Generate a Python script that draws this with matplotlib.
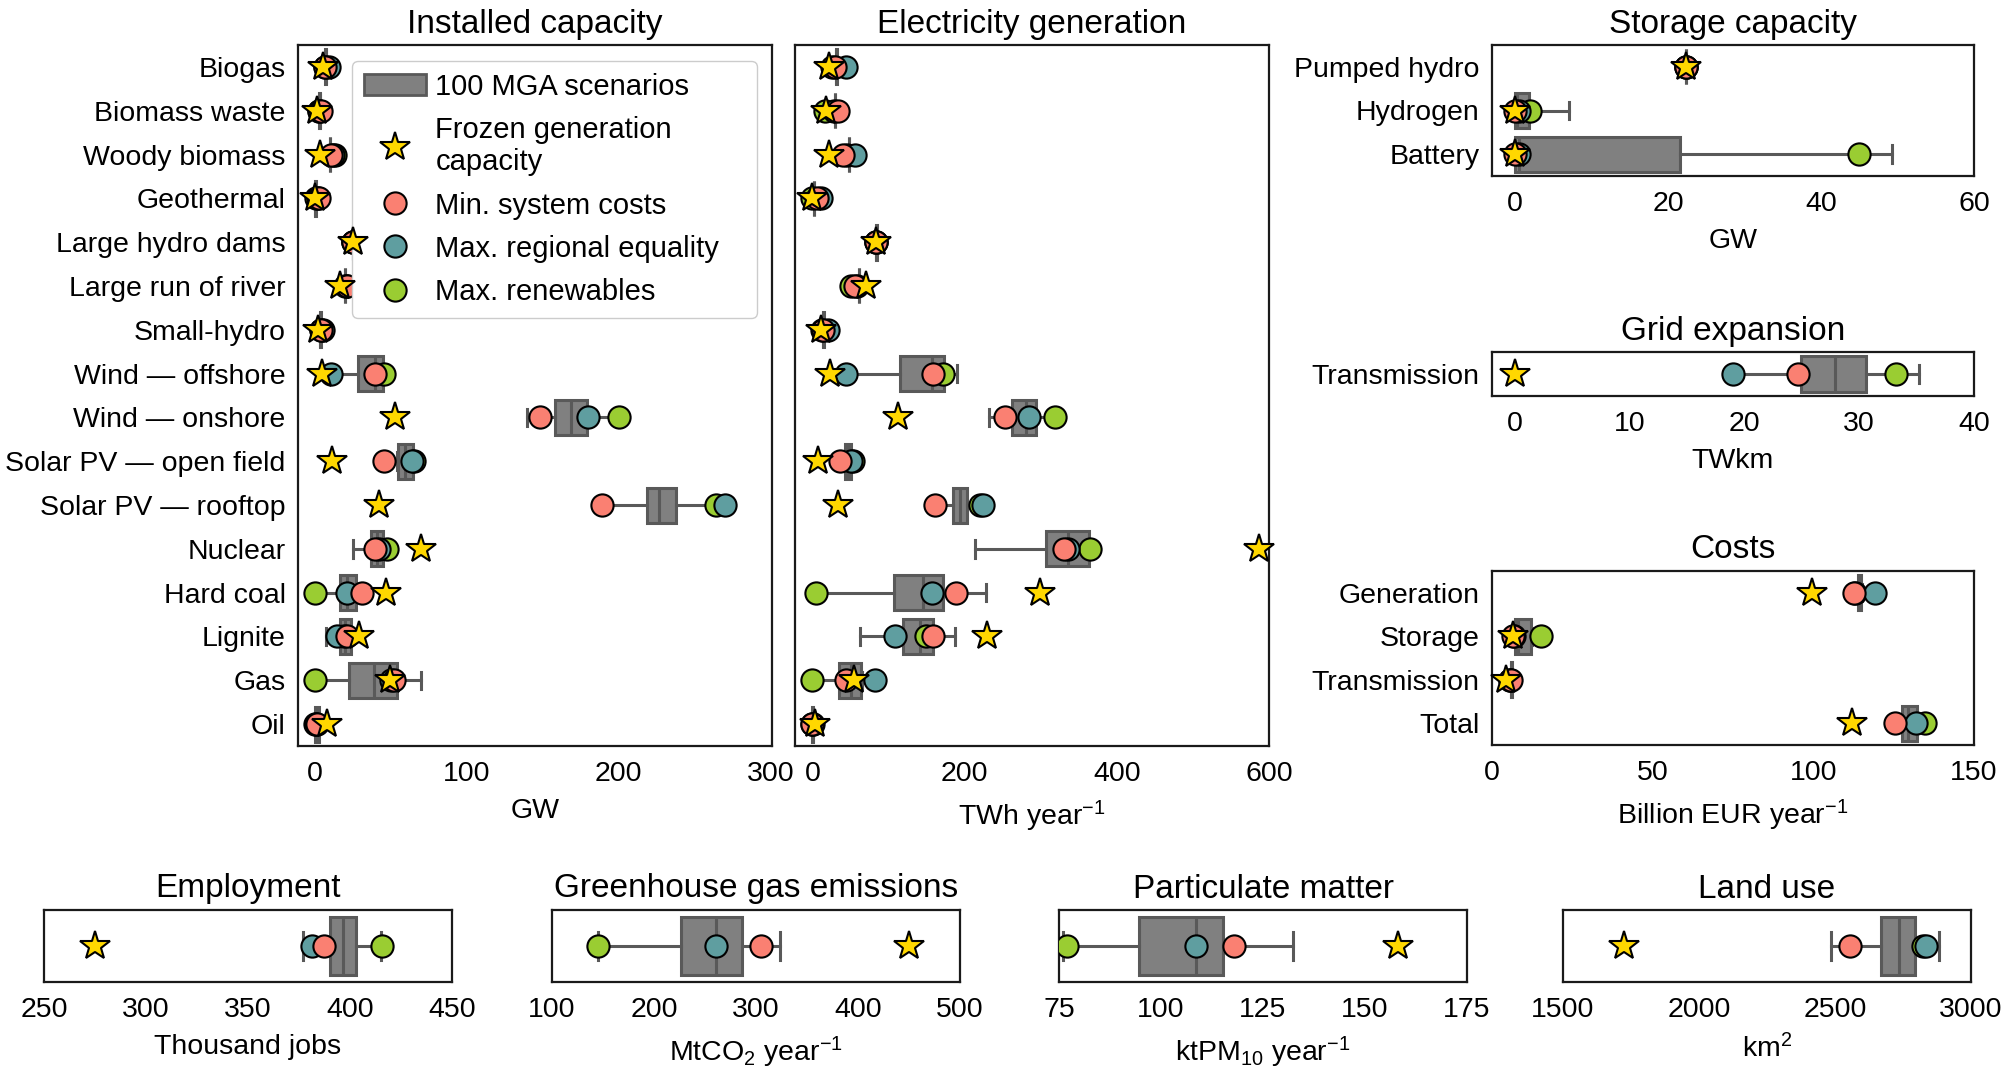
import matplotlib
matplotlib.use("Agg")
import matplotlib.pyplot as plt
from matplotlib.patches import Patch
from matplotlib.lines import Line2D

plt.rcParams['font.family'] = ['Liberation Sans', 'DejaVu Sans']
plt.rcParams['mathtext.default'] = 'regular'
plt.rcParams['font.size'] = 20.5

# ---- data (box stats = whisker low, q1, median, q3, whisker high) ----
cap_labels = ["Biogas", "Biomass waste", "Woody biomass", "Geothermal", "Large hydro dams",
              "Large run of river", "Small-hydro", "Wind — offshore", "Wind — onshore",
              "Solar PV — open field", "Solar PV — rooftop", "Nuclear", "Hard coal",
              "Lignite", "Gas", "Oil"]
cap_box = [(6.5, 7, 7.3, 7.6, 8), (3, 3.1, 3.3, 3.5, 3.6), (9.6, 9.8, 10, 10.3, 10.5),
           (0, 0.2, 0.5, 0.8, 1), (24.8, 24.9, 25, 25.1, 25.2), (19.6, 19.8, 20, 20.2, 20.4),
           (3.5, 3.6, 3.8, 4, 4.1), (11, 28.7, 40, 45, 45.5), (140, 158, 168.5, 179, 199),
           (54, 54.5, 59.6, 64.7, 65), (190, 218.5, 226.3, 237.5, 262), (25.4, 37, 41, 45, 45.5),
           (0, 16.5, 21.4, 27, 29), (7.7, 16.5, 20, 23.6, 24), (0, 22.5, 39.3, 54, 70),
           (0, 0.5, 1.5, 3, 3.5)]
cap_min_cost = [6.6, 4.4, 10.5, 3, 25, 21, 4.4, 40, 148, 45.7, 189, 40, 31, 21, 52, 1.5]
cap_max_equal = [9.4, 3, 12, 2, 25, 21, 5.5, 11, 180, 64, 270, 42, 21.4, 14.4, 50, 1]
cap_max_ren = [7, 2.5, 13.2, 1, 25, 20, 4, 45.7, 200, 65.5, 264, 47.5, 0, 19, 0, 0]
cap_frozen = [5.5, 1.3, 3.3, 0, 25, 16.5, 2.2, 5, 53, 11.7, 42, 70, 47, 29, 49.7, 8.4]

gen_box = [(30, 30.5, 31.5, 32.5, 33), (28.5, 29, 29.3, 29.7, 30), (47, 47.5, 48, 48.5, 49),
           (1, 1.5, 2, 2.5, 3), (83.5, 83.8, 84, 84.2, 84.5), (60, 60.5, 61, 61.5, 62),
           (13, 13.5, 14, 14.5, 15), (44.6, 114.6, 157, 172.4, 190), (231.5, 262.6, 280, 294, 315),
           (42, 43, 47, 51, 52), (165, 184.6, 193.4, 203, 222), (214, 307, 335.6, 363, 365),
           (5, 106.7, 145, 171.5, 228.5), (63, 119, 141, 159, 187), (0, 35, 50, 63.4, 65),
           (0, 0, 0.5, 1, 1.5)]
gen_min_cost = [29, 33.6, 40, 5.3, 84, 55.5, 14, 158, 253, 36, 161.5, 330, 188, 158.4, 44.6, 0]
gen_max_equal = [44.6, 28, 55.5, 11.8, 84, 58, 20.5, 44.6, 285, 50, 224, 336, 157, 109, 81.8, 1]
gen_max_ren = [26, 16, 45, 0, 84, 51, 13, 172, 319, 53, 220, 365, 5, 149.7, 0, 0]
gen_frozen = [21.8, 18.4, 21.8, 0, 84, 70, 11.8, 23.6, 113, 7.4, 33.6, 587, 299.4, 229.8, 54.6, 3]

sto_labels = ["Pumped hydro", "Hydrogen", "Battery"]
sto_box = [(22.3, 22.3, 22.3, 22.3, 22.3), (0, 0, 0.3, 1.9, 7), (0, 0, 0.5, 21.6, 49.3)]
sto_min_cost = [22.3, 0, 0]
sto_max_equal = [22.3, 0.5, 0.5]
sto_max_ren = [22.3, 2, 45]
sto_frozen = [22.3, 0, 0]

grid_labels = ["Transmission"]
grid_box = [(19.3, 24.9, 27.85, 30.6, 35.2)]
grid_min_cost = [24.7]
grid_max_equal = [19]
grid_max_ren = [33.2]
grid_frozen = [0]

cost_labels = ["Generation", "Storage", "Transmission", "Total"]
cost_box = [(113.5, 113.8, 114.3, 114.8, 115), (7, 7.1, 8, 12.2, 12.5),
            (5.8, 5.9, 6, 6.1, 6.2), (127, 127.7, 129.5, 132.3, 133)]
cost_min_cost = [112.6, 6.6, 6, 125.4]
cost_max_equal = [119.2, 7, 5.5, 132]
cost_max_ren = [113, 15.3, 5.5, 134.7]
cost_frozen = [99.5, 6.6, 4.5, 112]

jobs_box = [(376.8, 390, 396.8, 402.7, 415)]
jobs_vals = [387.4, 381.5, 415.6, 275]      # min cost, max equality, max renewables, frozen
ghg_box = [(145, 226, 261, 286.5, 324)]
ghg_vals = [305, 261, 144.7, 450]
pm_box = [(76, 94.5, 108.5, 115.3, 132.4)]
pm_vals = [118, 108.5, 76.9, 158]
land_box = [(2487, 2669, 2735.5, 2794.6, 2882)]
land_vals = [2556, 2835, 2823, 1724]

BOX = "#808080"
EDGE = "#595959"
RED = "#FA8072"
TEAL = "#5F9EA0"
GREEN = "#9ACD32"
GOLD = "#FFD700"

fig = plt.figure(figsize=(20.01, 10.71), dpi=100)
W, H = 2001.0, 1071.0


def add_ax(l, t, r, b):
    return fig.add_axes([l / W, 1 - b / H, (r - l) / W, (b - t) / H])


def draw(ax, labels, box, red, teal, green, star, xlim, xticks, xlabel, title, show_labels=True):
    n = len(box)
    ys = list(range(n))
    stats = [dict(whislo=b[0], q1=b[1], med=b[2], q3=b[3], whishi=b[4]) for b in box]
    ax.bxp(stats, positions=ys, widths=0.8, orientation='horizontal', patch_artist=True,
           showfliers=False,
           boxprops=dict(facecolor=BOX, edgecolor=EDGE, linewidth=2.2),
           medianprops=dict(color=EDGE, linewidth=2.2),
           whiskerprops=dict(color=EDGE, linewidth=2.2),
           capprops=dict(color=EDGE, linewidth=2.2))
    mk = dict(linestyle='none', markeredgecolor='black', markeredgewidth=1.5)
    ax.plot(green, ys, 'o', ms=16, mfc=GREEN, zorder=3, **mk)
    ax.plot(teal, ys, 'o', ms=16, mfc=TEAL, zorder=4, **mk)
    ax.plot(red, ys, 'o', ms=16, mfc=RED, zorder=5, **mk)
    ax.plot(star, ys, '*', ms=22, mfc=GOLD, zorder=6, clip_on=False, **mk)
    ax.set_ylim(n - 0.5, -0.5)
    if show_labels and labels:
        ax.set_yticks(ys, labels)
    else:
        ax.set_yticks([])
    ax.set_xlim(*xlim)
    ax.set_xticks(xticks, [str(v) for v in xticks])
    ax.tick_params(axis='x', length=0, pad=11, labelsize=20.5)
    ax.tick_params(axis='y', length=0, pad=9, labelsize=20.5)
    ax.set_xlabel(xlabel, fontsize=20.5, labelpad=8)
    ax.set_title(title, fontsize=24, pad=9)
    for s in ax.spines.values():
        s.set_linewidth(1.6)
        s.set_color("#1a1a1a")


ax_cap = add_ax(298, 45, 772, 746)
draw(ax_cap, cap_labels, cap_box, cap_min_cost, cap_max_equal, cap_max_ren, cap_frozen,
     (-11, 301), [0, 100, 200, 300], "GW", "Installed capacity")

ax_gen = add_ax(795, 45, 1269, 746)
draw(ax_gen, cap_labels, gen_box, gen_min_cost, gen_max_equal, gen_max_ren, gen_frozen,
     (-23, 600), [0, 200, 400, 600], "TWh year$^{-1}$", "Electricity generation", show_labels=False)

ax_sto = add_ax(1492, 45, 1974, 176)
draw(ax_sto, sto_labels, sto_box, sto_min_cost, sto_max_equal, sto_max_ren, sto_frozen,
     (-3, 60), [0, 20, 40, 60], "GW", "Storage capacity")

ax_grid = add_ax(1492, 352, 1974, 396)
draw(ax_grid, grid_labels, grid_box, grid_min_cost, grid_max_equal, grid_max_ren, grid_frozen,
     (-2, 40), [0, 10, 20, 30, 40], "TWkm", "Grid expansion")

ax_cost = add_ax(1492, 571, 1974, 745)
draw(ax_cost, cost_labels, cost_box, cost_min_cost, cost_max_equal, cost_max_ren, cost_frozen,
     (0, 150), [0, 50, 100, 150], "Billion EUR year$^{-1}$", "Costs")

bottom = [
    (44, jobs_box, jobs_vals, (250, 450), [250, 300, 350, 400, 450], "Thousand jobs", "Employment"),
    (552, ghg_box, ghg_vals, (100, 500), [100, 200, 300, 400, 500], "MtCO$_2$ year$^{-1}$",
     "Greenhouse gas emissions"),
    (1059, pm_box, pm_vals, (75, 175), [75, 100, 125, 150, 175], "ktPM$_{10}$ year$^{-1}$",
     "Particulate matter"),
    (1563, land_box, land_vals, (1500, 3000), [1500, 2000, 2500, 3000], "km$^2$", "Land use"),
]
for left, bx, vals, xl, xt, xlab, ttl in bottom:
    ax = add_ax(left, 910, left + 408, 982)
    draw(ax, None, bx, [vals[0]], [vals[1]], [vals[2]], [vals[3]], xl, xt, xlab, ttl,
         show_labels=False)

handles = [
    Patch(facecolor=BOX, edgecolor=EDGE, linewidth=2),
    Line2D([], [], linestyle='none', marker='*', ms=22, mfc=GOLD, mec='black', mew=1.5),
    Line2D([], [], linestyle='none', marker='o', ms=16, mfc=RED, mec='black', mew=1.5),
    Line2D([], [], linestyle='none', marker='o', ms=16, mfc=TEAL, mec='black', mew=1.5),
    Line2D([], [], linestyle='none', marker='o', ms=16, mfc=GREEN, mec='black', mew=1.5),
]
names = ["100 MGA scenarios", "Frozen generation\ncapacity", "Min. system costs",
         "Max. regional equality", "Max. renewables"]
ax_cap.legend(handles, names, loc='upper left', bbox_to_anchor=(0.114, 0.0, 0.854, 0.977),
              mode='expand', borderaxespad=0, fontsize=21, handlelength=2.12,
              handletextpad=0.34, labelspacing=0.52, borderpad=0.4, framealpha=1,
              edgecolor="#cccccc")

fig.savefig("out.png", dpi=100)
